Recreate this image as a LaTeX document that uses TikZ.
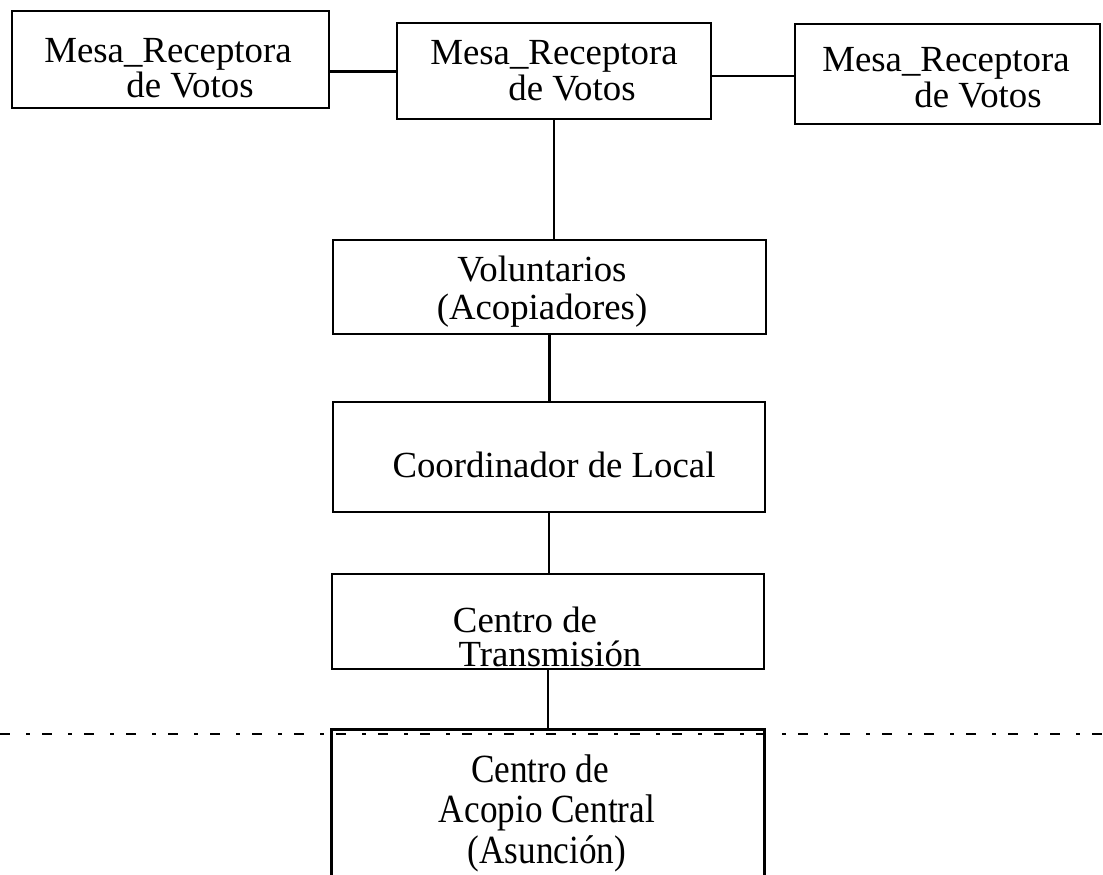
\documentclass[tikz,border=0pt]{standalone}
\usepackage{fontspec}
\setmainfont{Liberation Serif}
\begin{document}
\begin{tikzpicture}[x=0.5pt,y=-0.5pt,
  box/.style={draw, line width=1.3pt, inner sep=0pt},
  conn/.style={line width=1.1pt},
  txt/.style={anchor=base, inner sep=0pt, font=\fontsize{18.4}{20}\selectfont},
  tall/.style={anchor=base, inner sep=0pt, font=\fontsize{20}{22}\selectfont, xscale=0.88, transform shape},
  scanline/.style={line width=1.1pt, dash pattern=on 5pt off 8pt on 2pt off 6pt}]
\useasboundingbox (0,0) rectangle (1103,874);
% top row boxes
\node[box, minimum width=158.5pt, minimum height=48.5pt] (m1) at (170.5,59.5) {};
\node[box, minimum width=157pt, minimum height=48pt] (m2) at (554,71) {};
\node[box, minimum width=152.5pt, minimum height=50pt] (m3) at (947.5,74) {};
\node[txt] (m1a) at (168,62) {Mesa\_Receptora};
\node[txt] (m1b) at (190,97) {de Votos};
\node[txt] (m2a) at (554,64) {Mesa\_Receptora};
\node[txt] (m2b) at (572,100) {de Votos};
\node[txt] (m3a) at (946,71) {Mesa\_Receptora};
\node[txt] (m3b) at (978,107) {de Votos};
% column boxes
\node[box, minimum width=216.5pt, minimum height=47pt] (vol) at (549.5,287) {};
\node[box, minimum width=216pt, minimum height=55pt] (coo) at (549,457) {};
\node[box, minimum width=216pt, minimum height=47.5pt] (tra) at (548,621.5) {};
\node[box, minimum width=216.5pt, minimum height=90pt, anchor=north] (aco) at (548,728) {};
\node[txt] (vola) at (542,281) {Voluntarios};
\node[txt] (volb) at (542,319) {(Acopiadores)};
\node[txt] (cooa) at (554,477) {Coordinador de Local};
\node[txt] (traa) at (525,632) {Centro de};
\node[txt] (trab) at (550,666) {Transmisión};
\node[tall] (acoa) at (540,782) {Centro de};
\node[tall] (acob) at (547,822) {Acopio Central};
\node[tall] (acoc) at (547,863) {(Asunción)};
% connectors
\draw[conn] ([yshift=-6pt]m1.east) -- ([yshift=-6pt]m1.east -| m2.west);
\draw[conn] ([yshift=-2.5pt]m2.east) -- ([yshift=-2.5pt]m2.east -| m3.west);
\draw[conn] (m2.south) -- (m2.south |- vol.north);
\draw[conn] (vol.south) -- (vol.south |- coo.north);
\draw[conn] (coo.south) -- (coo.south |- tra.north);
\draw[conn] (tra.south) -- (tra.south |- aco.north);
% scan line across the page
\coordinate (sl) at (0,734);
\coordinate (sr) at (1103,734);
\draw[scanline] (sl) -- (sr);
\end{tikzpicture}
\end{document}
